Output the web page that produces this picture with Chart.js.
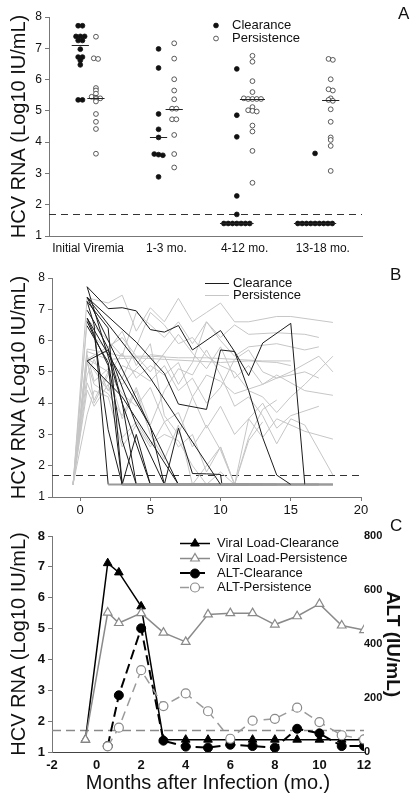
<!DOCTYPE html>
<html>
<head>
<meta charset="utf-8">
<title>HCV RNA</title>
<script src="https://cdn.jsdelivr.net/npm/chart.js@4.4.0/dist/chart.umd.min.js"></script>
<style>
body { margin: 0; background: #fff; width: 414px; height: 805px; overflow: hidden; position: relative; font-family: Arial, "Liberation Sans", sans-serif; }
canvas { position: absolute; left: 0; }
.tag { position: absolute; font-size: 17px; color: #111; line-height: 20px; }
</style>
</head>
<body>
<canvas id="chartA" width="414" height="260" style="top:0"></canvas>
<canvas id="chartB" width="414" height="260" style="top:260px"></canvas>
<canvas id="chartC" width="414" height="285" style="top:520px"></canvas>
<div class="tag" style="left:398px;top:4px">A</div>
<div class="tag" style="left:390px;top:265px">B</div>
<div class="tag" style="left:390px;top:516px">C</div>
<script>
const FONT = 'Arial, "Liberation Sans", sans-serif';
Chart.defaults.font.family = FONT;
Chart.defaults.color = '#111';

const LOD = 1.7;        // limite de detection
const UNDETECT = 1.4;   // valeur tracee pour "non detecte"

//#region donnees A
const groupLabels = ['Initial Viremia', '1-3 mo.', '4-12 mo.', '13-18 mo.'];
const groupTicks = [0, 1, 2, 3];
const clearanceA = [
    [7.72, 7.72, 7.38, 7.38, 7.38, 7.25, 7.25, 6.97, 6.72, 6.72, 6.61, 6.47, 5.35, 5.35],
    [6.98, 6.37, 4.90, 4.41, 4.15, 3.62, 3.60, 3.58, 2.89],
    [6.34, 4.86, 4.17, 2.28, 1.69, 1.4, 1.4, 1.4, 1.4, 1.4, 1.4, 1.4],
    [3.64, 1.4, 1.4, 1.4, 1.4, 1.4, 1.4, 1.4, 1.4, 1.4]
];
const persistenceA = [
    [7.37, 6.68, 6.66, 5.73, 5.65, 5.55, 5.45, 5.42, 5.40, 5.38, 5.30, 4.90, 4.65, 4.42, 3.63],
    [7.16, 6.67, 6.01, 5.65, 5.37, 5.07, 5.07, 4.73, 4.73, 4.23, 3.62, 3.19],
    [6.76, 6.57, 5.95, 5.60, 5.40, 5.38, 5.38, 5.38, 5.38, 5.12, 5.02, 5.00, 4.98, 4.53, 4.34, 3.72, 2.70],
    [6.66, 6.63, 6.01, 5.69, 5.65, 5.40, 5.35, 5.32, 5.05, 4.65, 4.15, 4.07, 3.88, 3.08]
];
//#endregion

//#region donnees B
const clearanceB = [
    [[0.5, 7.72], [2, 7.02], [3, 7.05], [4, 6.95], [5, 6.35], [6, 6.27], [7, 6.48], [8, 5.7], [10, 6.32], [11, 5.65], [12, 4.88], [13, 5.92], [15, 6.55], [16, 1.4], [18, 1.4]],
    [[0.5, 7.38], [4, 5.95], [6, 4.95], [7, 3.97], [9, 3.8], [10, 5.7], [11, 5.65], [12, 4.4], [13, 2.9], [14, 1.7], [15, 1.4], [17, 1.4]],
    [[0.5, 7.38], [5, 4.8], [10, 1.4], [14, 1.4]],
    [[0.5, 7.25], [2, 6.4], [3, 1.4], [11, 1.4]],
    [[0.5, 6.97], [1, 6.6], [2, 5.75], [3, 4.0], [4, 1.4], [12, 1.4]],
    [[0.5, 6.72], [1, 6.2], [2, 3.15], [3, 1.4], [9, 1.4]],
    [[0.5, 7.25], [1, 6.5], [2, 1.4], [18, 1.4]],
    [[0.5, 6.47], [2, 5.3], [3, 2.8], [4, 1.4], [10, 1.4]],
    [[0.5, 5.35], [2, 5.7], [4, 3.3], [6, 1.4], [13, 1.4]],
    [[0.5, 6.72], [5, 3.25], [6, 1.4], [7, 3.2], [8, 1.75], [9, 1.74], [10, 1.72], [10.1, 1.4], [16, 1.4]],
    [[0.5, 7.38], [7, 1.4], [15, 1.4]],
    [[0.5, 6.61], [2, 5.2], [3, 1.4], [4, 3.0], [5, 1.4], [7, 1.4]],
    [[0.5, 7.72], [3, 4.0], [5, 1.4], [8, 1.4]],
    [[0.5, 5.35], [3, 4.2], [7, 1.4], [12, 1.4]]
];
const persistenceB = [
    [[-0.5, 1.4], [0.5, 7.37], [2, 7.2], [3, 7.45], [4, 6.3], [5, 7.05], [6, 6.6], [7, 7.35], [8, 6.6], [9, 6.9], [10, 7.2], [11, 6.6], [12, 6.6], [14, 6.77], [15, 6.77], [18, 6.58]],
    [[-0.5, 1.4], [0.5, 6.68], [2, 6.0], [3, 5.5], [4, 6.9], [5, 6.5], [6, 6.1], [7, 6.6], [8, 5.9], [9, 6.6], [10, 6.1], [11, 6.5], [12, 6.2], [14, 6.25], [16, 6.2], [17, 6.1]],
    [[-0.5, 1.4], [0.5, 6.66], [1, 6.1], [2, 5.7], [3, 6.3], [4, 5.2], [5, 5.9], [6, 3.6], [7, 3.0], [8, 4.2], [9, 3.2], [10, 3.9], [11, 3.0], [12, 3.5], [13, 2.9], [14, 3.5], [16, 3.1], [18, 2.85]],
    [[-0.5, 1.4], [0.5, 5.73], [2, 5.6], [3, 5.5], [5, 5.5], [7, 5.45], [9, 5.45], [11, 5.4], [13, 5.35], [15, 5.35]],
    [[-0.5, 1.4], [0.5, 5.65], [2, 5.4], [4, 5.45], [6, 5.4], [8, 5.35], [10, 5.3], [12, 5.35], [14, 5.3], [15, 5.2]],
    [[-0.5, 1.4], [0.5, 5.55], [1, 4.7], [2, 5.1], [3, 4.6], [4, 5.1], [5, 5.55], [6, 5.5], [7, 4.6], [8, 5.3], [9, 6.6], [10, 6.0], [11, 5.5], [12, 5.8], [14, 5.9], [16, 5.7], [17, 5.8]],
    [[-0.5, 1.4], [0.5, 5.45], [1, 4.0], [2, 4.9], [3, 5.6], [4, 4.8], [5, 5.2], [6, 4.9], [7, 5.3], [8, 4.2], [9, 4.9], [10, 4.7], [11, 4.3], [13, 4.6], [14, 4.9], [16, 4.4], [18, 4.25]],
    [[-0.5, 1.4], [0.5, 5.42], [2, 5.0], [3, 3.5], [4, 4.4], [5, 3.0], [6, 2.2], [7, 3.3], [8, 1.4], [9, 2.0], [10, 2.6], [11, 1.4], [12, 3.5], [13, 4.0], [14, 3.2], [15, 3.6], [17, 3.9]],
    [[-0.5, 1.4], [0.5, 5.40], [2, 5.8], [3, 6.1], [4, 5.5], [5, 5.0], [6, 5.6], [7, 6.2], [8, 5.6], [9, 5.1], [10, 5.8], [11, 4.8], [12, 5.2], [13, 4.6], [15, 5.0], [17, 5.5], [18, 5.0]],
    [[-0.5, 1.4], [0.5, 5.38], [2, 4.4], [3, 4.8], [4, 5.8], [5, 6.9], [6, 6.5], [7, 5.9], [8, 6.1], [9, 5.5], [10, 5.2], [11, 5.0], [12, 4.4], [13, 4.2], [14, 3.7], [15, 4.2], [16, 4.6], [18, 5.5]],
    [[-0.5, 1.4], [0.5, 5.30], [1, 4.6], [2, 4.3], [3, 3.6], [4, 4.5], [5, 3.3], [6, 4.4], [7, 5.1], [8, 4.9], [9, 5.7], [10, 4.9], [11, 3.9], [12, 4.2], [13, 3.6], [14, 2.7], [15, 3.5], [16, 3.3], [18, 1.7]],
    [[-0.5, 1.4], [0.5, 4.90], [1, 5.4], [2, 4.4], [3, 5.2], [4, 5.0], [5, 4.7], [6, 5.2], [7, 4.4], [8, 4.8], [9, 4.0], [10, 4.5], [11, 5.4], [12, 5.7], [13, 5.0], [14, 4.8], [16, 5.0], [17, 4.8]],
    [[-0.5, 1.4], [0.5, 4.65], [1, 4.1], [2, 5.0], [3, 4.3], [4, 3.9], [5, 4.5], [6, 3.4], [7, 3.7], [8, 2.6], [9, 3.3], [10, 2.5], [11, 1.4], [12, 2.8], [13, 3.4]],
    [[-0.5, 1.4], [0.5, 4.42], [1, 3.9], [2, 4.6], [3, 2.9], [4, 3.4], [5, 2.7], [6, 3.0], [7, 2.8], [8, 2.0], [9, 1.4], [10, 1.8], [11, 1.4]],
    [[-0.5, 1.4], [0.5, 3.63], [1, 4.4], [2, 4.2], [3, 2.6], [4, 3.3], [5, 2.6], [6, 3.4], [7, 2.6], [8, 3.0], [9, 1.8], [10, 2.6], [11, 1.4], [12, 2.9], [13, 3.8], [14, 4.1]]
];
const monthTicksB = [0, 5, 10, 15, 20];
//#endregion

//#region donnees C
const monthsC = [-0.5, 0.5, 1, 2, 3, 4, 5, 6, 7, 8, 9, 10, 11, 12];
const vlClearance = [1.4, 7.12, 6.82, 5.72, 1.4, 1.4, 1.4, 1.4, 1.4, 1.4, 1.4, 1.4, 1.4, 1.4];
const vlPersistence = [1.4, 5.52, 5.18, 5.5, 4.87, 4.57, 5.46, 5.5, 5.5, 5.13, 5.4, 5.8, 5.1, 4.95];
const altClearance = [null, 22, 210, 458, 42, 20, 16, 27, 22, 16, 86, 69, 22, 22];
const altPersistence = [null, 21, 90, 303, 170, 217, 151, 49, 116, 123, 164, 111, 62, 47];
//#endregion

//#region outils
// nuage de points centre, les valeurs egales sont etalees a l'horizontale
function swarm(values, center) {
    const sorted = values.slice().sort((a, b) => b - a);
    const pts = [];
    let i = 0;
    while (i < sorted.length) {
        let j = i;
        while (j + 1 < sorted.length && sorted[i] - sorted[j + 1] < 0.05) j++;
        const n = j - i + 1;
        for (let k = 0; k < n; k++) {
            pts.push({ x: center + (k - (n - 1) / 2) * 0.055, y: sorted[i + k] });
        }
        i = j + 1;
    }
    return pts;
}

function median(values) {
    const s = values.slice().sort((a, b) => a - b);
    const m = Math.floor(s.length / 2);
    return s.length % 2 ? s[m] : (s[m - 1] + s[m]) / 2;
}

function pairsToPoints(trace) {
    return trace.map(p => ({ x: p[0], y: p[1] }));
}

function drawMarker(ctx, style, r, x, y, fill, stroke, bw) {
    ctx.beginPath();
    if (style === 'triangle') {
        ctx.moveTo(x, y - r);
        ctx.lineTo(x + 0.866 * r, y + 0.5 * r);
        ctx.lineTo(x - 0.866 * r, y + 0.5 * r);
        ctx.closePath();
    } else {
        ctx.arc(x, y, r, 0, Math.PI * 2);
    }
    ctx.fillStyle = fill;
    ctx.fill();
    ctx.lineWidth = bw || 1;
    ctx.strokeStyle = stroke;
    ctx.stroke();
}
//#endregion

//#region plugins
// ligne pointillee de la limite de detection
const lodLine = {
    id: 'lodLine',
    beforeDatasetsDraw(chart, args, opts) {
        const { ctx, chartArea, scales } = chart;
        const y = Math.round(scales.y.getPixelForValue(opts.value)) + 0.5;
        ctx.save();
        ctx.strokeStyle = opts.color;
        ctx.lineWidth = opts.width;
        ctx.setLineDash(opts.dash);
        ctx.beginPath();
        ctx.moveTo(chartArea.left, y);
        ctx.lineTo(chartArea.right, y);
        ctx.stroke();
        ctx.restore();
    }
};

// traits des medianes (panneau A)
const medianMarks = {
    id: 'medianMarks',
    afterDatasetsDraw(chart) {
        const { ctx, scales } = chart;
        ctx.save();
        ctx.strokeStyle = '#222';
        ctx.lineWidth = 1;
        chart.data.datasets.forEach(d => {
            (d.medians || []).forEach(m => {
                const y = Math.round(scales.y.getPixelForValue(m.y)) + 0.5;
                ctx.beginPath();
                ctx.moveTo(scales.x.getPixelForValue(m.x - m.half), y);
                ctx.lineTo(scales.x.getPixelForValue(m.x + m.half), y);
                ctx.stroke();
            });
        });
        ctx.restore();
    }
};

// legende posee dans le graphique
const floatLegend = {
    id: 'floatLegend',
    afterDraw(chart, args, opts) {
        const ctx = chart.ctx;
        const sets = chart.data.datasets.filter(d => d.legend).sort((a, b) => a.legend - b.legend);
        ctx.save();
        ctx.font = opts.font;
        ctx.textBaseline = 'middle';
        sets.forEach((d, i) => {
            const y = Math.round(opts.y + i * opts.gap);
            if (opts.lineX0 !== undefined) {
                const ly = d.borderWidth % 2 ? y + 0.5 : y;
                ctx.strokeStyle = d.borderColor;
                ctx.lineWidth = d.borderWidth;
                ctx.setLineDash(d.borderDash || []);
                ctx.beginPath();
                ctx.moveTo(opts.lineX0, ly);
                ctx.lineTo(opts.lineX1, ly);
                ctx.stroke();
                ctx.setLineDash([]);
            }
            if (d.pointRadius > 0) {
                drawMarker(ctx, d.pointStyle, d.pointRadius, opts.markerX, y + 0.5, d.pointBackgroundColor, d.pointBorderColor, d.pointBorderWidth);
            }
            ctx.fillStyle = '#111';
            ctx.fillText(d.label, opts.textX, y + 0.5);
        });
        ctx.restore();
    }
};
//#endregion

function yAxis(width, titleFont, tickFont) {
    return {
        min: 1,
        max: 8,
        ticks: { stepSize: 1, font: tickFont, color: '#111', padding: 3 },
        grid: { drawOnChartArea: false, tickLength: 4, color: '#777' },
        border: { color: '#777' },
        title: { display: true, text: 'HCV RNA (Log10 IU/mL)', font: titleFont, color: '#111', padding: { top: 7, bottom: 0 } },
        afterFit: s => { s.width = width; }
    };
}

//#region panneau A
function buildChartA() {
    const datasets = [];
    const medians = [];
    clearanceA.forEach((vals, g) => {
        const pts = swarm(vals, g - 0.1);
        const med = median(vals);
        const spread = Math.max(0, ...pts.filter(p => Math.abs(p.y - med) < 0.05).map(p => Math.abs(p.x - (g - 0.1))));
        medians.push({ x: g - 0.1, y: med, half: Math.max(0.11, spread + 0.05) });
        datasets.push({
            label: 'Clearance', legend: g == 0 ? 1 : 0, data: pts,
            pointRadius: 2.4, pointStyle: 'circle', pointBackgroundColor: '#111', pointBorderColor: '#111', pointBorderWidth: 0.8,
            medians: []
        });
    });
    persistenceA.forEach((vals, g) => {
        const pts = swarm(vals, g + 0.1);
        const med = median(vals);
        const spread = Math.max(0, ...pts.filter(p => Math.abs(p.y - med) < 0.05).map(p => Math.abs(p.x - (g + 0.1))));
        medians.push({ x: g + 0.1, y: med, half: Math.max(0.11, spread + 0.05) });
        datasets.push({
            label: 'Persistence', legend: g == 0 ? 2 : 0, data: pts,
            pointRadius: 2.4, pointStyle: 'circle', pointBackgroundColor: '#fff', pointBorderColor: '#333', pointBorderWidth: 0.8,
            medians: []
        });
    });
    datasets[0].medians = medians;

    new Chart(document.getElementById('chartA').getContext('2d'), {
        type: 'scatter',
        data: { datasets: datasets },
        plugins: [lodLine, medianMarks, floatLegend],
        options: {
            responsive: false,
            animation: false,
            layout: { padding: { top: 17, right: 52, left: 0, bottom: 0 } },
            plugins: {
                legend: { display: false },
                tooltip: { enabled: false },
                lodLine: { value: LOD, color: '#333', width: 1, dash: [7, 5] },
                floatLegend: { font: '13px ' + FONT, y: 25, gap: 13, markerX: 216, textX: 232 }
            },
            scales: {
                x: {
                    type: 'linear', min: -0.5, max: 3.5,
                    afterBuildTicks: s => { s.ticks = groupTicks.map(v => ({ value: v })); },
                    ticks: { callback: v => groupLabels[v], font: { size: 12 }, color: '#111', padding: 5, maxRotation: 0 },
                    grid: { drawOnChartArea: false, drawTicks: false },
                    border: { color: '#777' },
                    afterFit: s => { s.height = 24; }
                },
                y: yAxis(49, { size: 20 }, { size: 12 })
            }
        }
    });
}
//#endregion

//#region panneau B
function buildChartB() {
    const datasets = [];
    // clearance en premier pour etre dessinee au-dessus
    clearanceB.forEach((trace, i) => {
        datasets.push({
            label: 'Clearance', legend: i == 0 ? 1 : 0,
            data: pairsToPoints(trace),
            borderColor: '#1c1c1c', borderWidth: 1, pointRadius: 0,
            segment: {
                borderColor: c => (c.p0.parsed.y <= UNDETECT && c.p1.parsed.y <= UNDETECT) ? '#9a9a9a' : undefined,
                borderWidth: c => (c.p0.parsed.y <= UNDETECT && c.p1.parsed.y <= UNDETECT) ? 2 : undefined
            }
        });
    });
    persistenceB.forEach((trace, i) => {
        datasets.push({
            label: 'Persistence', legend: i == 0 ? 2 : 0,
            data: pairsToPoints(trace),
            borderColor: '#c6c6c6', borderWidth: 1, pointRadius: 0
        });
    });

    new Chart(document.getElementById('chartB').getContext('2d'), {
        type: 'line',
        data: { datasets: datasets },
        plugins: [lodLine, floatLegend],
        options: {
            responsive: false,
            animation: false,
            layout: { padding: { top: 18, right: 53, left: 0, bottom: 0 } },
            plugins: {
                legend: { display: false },
                tooltip: { enabled: false },
                lodLine: { value: LOD, color: '#333', width: 1, dash: [7, 5] },
                floatLegend: { font: '13px ' + FONT, y: 23, gap: 12, lineX0: 205, lineX1: 229, markerX: 217, textX: 233 }
            },
            scales: {
                x: {
                    type: 'linear', min: -2, max: 20,
                    afterBuildTicks: s => { s.ticks = monthTicksB.map(v => ({ value: v })); },
                    ticks: { font: { size: 13 }, color: '#111', padding: 2, maxRotation: 0 },
                    grid: { drawOnChartArea: false, tickLength: 4, color: '#777' },
                    border: { color: '#777' },
                    afterFit: s => { s.height = 23; }
                },
                y: yAxis(52, { size: 20 }, { size: 12 })
            }
        }
    });
}
//#endregion

//#region panneau C
function buildChartC() {
    const pts = vals => monthsC.map((m, i) => ({ x: m, y: vals[i] })).filter(p => p.y !== null);
    const datasets = [
        {
            label: 'Viral Load-Persistence', legend: 2, data: pts(vlPersistence),
            borderColor: '#8a8a8a', borderWidth: 1.5,
            pointStyle: 'triangle', pointRadius: 5, pointBackgroundColor: '#fff', pointBorderColor: '#8a8a8a', pointBorderWidth: 1.2
        },
        {
            label: 'ALT-Persistence', legend: 4, data: pts(altPersistence), yAxisID: 'y2',
            borderColor: '#9a9a9a', borderWidth: 1.5, borderDash: [9, 6],
            pointStyle: 'circle', pointRadius: 4.5, pointBackgroundColor: '#fff', pointBorderColor: '#8a8a8a', pointBorderWidth: 1.2
        },
        {
            label: 'ALT-Clearance', legend: 3, data: pts(altClearance), yAxisID: 'y2',
            borderColor: '#000', borderWidth: 2, borderDash: [10, 5],
            pointStyle: 'circle', pointRadius: 4.5, pointBackgroundColor: '#000', pointBorderColor: '#000', pointBorderWidth: 1
        },
        {
            label: 'Viral Load-Clearance', legend: 1, data: pts(vlClearance),
            borderColor: '#000', borderWidth: 1.5,
            pointStyle: 'triangle', pointRadius: 5, pointBackgroundColor: '#000', pointBorderColor: '#000', pointBorderWidth: 1
        }
    ];

    new Chart(document.getElementById('chartC').getContext('2d'), {
        type: 'line',
        data: { datasets: datasets },
        plugins: [lodLine, floatLegend],
        options: {
            responsive: false,
            animation: false,
            layout: { padding: { top: 16, right: 0, left: 0, bottom: 0 } },
            plugins: {
                legend: { display: false },
                tooltip: { enabled: false },
                lodLine: { value: LOD, color: '#8a8a8a', width: 1.5, dash: [9, 5] },
                floatLegend: { font: '13px ' + FONT, y: 23, gap: 14.8, lineX0: 180, lineX1: 210, markerX: 195, textX: 217 }
            },
            scales: {
                x: {
                    type: 'linear', min: -2, max: 12,
                    ticks: { stepSize: 2, font: { size: 13, weight: 'bold' }, color: '#111', padding: 6, maxRotation: 0 },
                    grid: { drawOnChartArea: false, drawTicks: false },
                    border: { color: '#444' },
                    title: { display: true, text: 'Months after Infection (mo.)', font: { size: 20 }, color: '#111', padding: { top: 0, bottom: 10 } },
                    afterFit: s => { s.height = 53; }
                },
                y: yAxis(52, { size: 20 }, { size: 13, weight: 'bold' }),
                y2: {
                    position: 'right', min: 0, max: 800,
                    ticks: { stepSize: 200, font: { size: 11, weight: 'bold' }, color: '#111', padding: 0 },
                    grid: { drawOnChartArea: false, drawTicks: false },
                    border: { display: false },
                    title: { display: true, text: 'ALT (IU/mL)', font: { size: 19, weight: 'bold' }, color: '#111', padding: { top: 10, bottom: 0 } },
                    afterFit: s => { s.width = 50; }
                }
            }
        }
    });
}
//#endregion

buildChartA();
buildChartB();
buildChartC();
</script>
</body>
</html>
